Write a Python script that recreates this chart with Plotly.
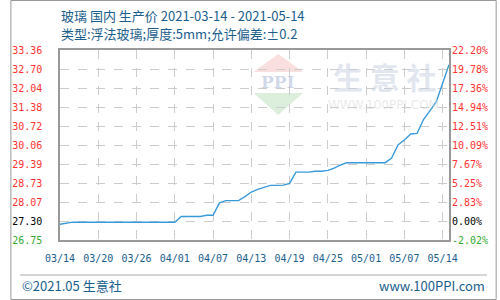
import plotly.graph_objects as go
import pandas as pd

start_date = "2021-03-14"
end_date = "2021-05-14"
prices = [27.30, 27.33,
          27.37, 27.37, 27.37, 27.37, 27.37, 27.37, 27.37, 27.37, 27.37,
          27.37, 27.37, 27.37, 27.37, 27.37, 27.37, 27.37, 27.37,
          27.57, 27.57, 27.57, 27.57,
          27.61, 27.61,
          28.04,
          28.12, 28.12, 28.12,
          28.26, 28.42, 28.51, 28.58,
          28.65, 28.65, 28.66, 28.72,
          29.11, 29.11, 29.11,
          29.14, 29.14, 29.17, 29.25, 29.36,
          29.44, 29.44, 29.44, 29.44, 29.44, 29.44, 29.44,
          29.60, 30.06, 30.23, 30.44, 30.46, 30.94, 31.24, 31.55, 32.20, 32.85]
dates = pd.date_range(start_date, periods=len(prices), freq="D")
base_price = 27.30

left_labels = ["26.75", "27.30", "28.07", "28.73", "29.39", "30.06",
               "30.72", "31.38", "32.04", "32.70", "33.36"]
right_labels = ["-2.02%", "0.00%", "2.83%", "5.25%", "7.67%", "10.09%",
                "12.51%", "14.94%", "17.36%", "19.78%", "22.20%"]
x_tick_dates = ["2021-03-14", "2021-03-20", "2021-03-26", "2021-04-01", "2021-04-07",
                "2021-04-13", "2021-04-19", "2021-04-25", "2021-05-01", "2021-05-07",
                "2021-05-13"]
x_tick_labels = ["03/14", "03/20", "03/26", "04/01", "04/07", "04/13", "04/19",
                 "04/25", "05/01", "05/07", "05/14"]

y_min, y_max = 26.75, 33.36
p_min, p_max = -2.02, 22.20
n = len(left_labels) - 1
left_vals = [y_min + i * (y_max - y_min) / n for i in range(n + 1)]
right_vals = [p_min + i * (p_max - p_min) / n for i in range(n + 1)]

RED = "#ff3333"
GREEN = "#33aa33"
BLACK = "#000000"
BLUE_TXT = "#1b5e8c"

def color_for(i):
    if i == 0:
        return GREEN
    if i == 1:
        return BLACK
    return RED

left_text = [f'<span style="color:{color_for(i)}">{t}</span>' for i, t in enumerate(left_labels)]
right_text = [f'<span style="color:{color_for(i)}">{t}</span>' for i, t in enumerate(right_labels)]

pct = [(p / base_price - 1) * 100 for p in prices]

fig = go.Figure()
fig.add_trace(go.Scatter(x=dates, y=prices, mode="lines",
                         line=dict(color="#3a9ad9", width=1.4), hoverinfo="skip",
                         showlegend=False))
fig.add_trace(go.Scatter(x=dates, y=pct, mode="lines", yaxis="y2",
                         line=dict(color="rgba(0,0,0,0)", width=0), hoverinfo="skip",
                         showlegend=False))

mono = "DejaVu Sans Mono"
fig.update_layout(
    width=500, height=300,
    margin=dict(l=51, r=49, t=50, b=60),
    paper_bgcolor="white", plot_bgcolor="white",
    xaxis=dict(range=[start_date, end_date], tickvals=x_tick_dates, ticktext=x_tick_labels,
               showgrid=True, gridcolor="#cccccc", griddash="dash", gridwidth=1,
               showline=True, linecolor="#999999", linewidth=1.5, mirror=True,
               ticks="", tickfont=dict(family=mono, size=10, color=BLUE_TXT),
               ticklabelstandoff=8, zeroline=False),
    yaxis=dict(range=[y_min, y_max], tickvals=left_vals, ticktext=left_text,
               showgrid=True, gridcolor="#cccccc", griddash="dash", gridwidth=1,
               showline=True, linecolor="#999999", linewidth=1.5, mirror=True,
               ticks="", tickfont=dict(family=mono, size=10, color=RED),
               ticklabelstandoff=14, zeroline=False),
    yaxis2=dict(range=[p_min, p_max], tickvals=right_vals, ticktext=right_text,
                overlaying="y", side="right", showgrid=False, zeroline=False,
                ticks="", tickfont=dict(family=mono, size=10, color=RED),
                ticklabelstandoff=2, showline=False),
)

title_font = dict(family="Noto Sans CJK SC", size=13, color=BLUE_TXT)
fig.add_annotation(text="玻璃 国内 生产价 2021-03-14 - 2021-05-14", xref="paper", yref="paper",
                   x=-0.002, y=1 + 35 / 190, xanchor="left", yanchor="middle",
                   showarrow=False, font=title_font)
fig.add_annotation(text="类型:浮法玻璃;厚度:5mm;允许偏差:±0.2", xref="paper", yref="paper",
                   x=-0.002, y=1 + 16 / 190, xanchor="left", yanchor="middle",
                   showarrow=False, font=title_font)

# footer
fig.add_shape(type="line", xref="paper", yref="paper", x0=-41 / 400, x1=439 / 400,
              y0=-35 / 190, y1=-35 / 190, line=dict(color="#aaaaaa", width=1))
fig.add_annotation(text="©2021.05 生意社", xref="paper", yref="paper", x=-41 / 400, y=-45 / 190,
                   xanchor="left", yanchor="middle", showarrow=False, font=title_font)
fig.add_annotation(text="www.100PPI.com", xref="paper", yref="paper", x=439 / 400, y=-45 / 190,
                   xanchor="right", yanchor="middle", showarrow=False, font=title_font)

# watermark
fig.add_shape(type="path", xref="paper", yref="paper",
              path=f"M {199/400} {1-22/190} L {250/400} {1-22/190} L {224.5/400} {1-4/190} Z",
              fillcolor="rgba(240,150,150,0.3)", line=dict(width=0), layer="below")
fig.add_shape(type="path", xref="paper", yref="paper",
              path=f"M {199/400} {1-43/190} L {250/400} {1-43/190} L {224.5/400} {1-65/190} Z",
              fillcolor="rgba(140,200,140,0.3)", line=dict(width=0), layer="below")
fig.add_annotation(text="<b>PPI</b>", xref="paper", yref="paper", x=224.5 / 400, y=1 - 32 / 190,
                   xanchor="center", yanchor="middle", showarrow=False,
                   font=dict(family="DejaVu Serif", size=17, color="rgba(170,185,215,0.55)"))
fig.add_annotation(text="<b>生 意 社</b>", xref="paper", yref="paper", x=334 / 400, y=1 - 26 / 190,
                   xanchor="center", yanchor="middle", showarrow=False,
                   font=dict(family="Noto Sans CJK SC", size=30, color="rgba(200,208,225,0.55)"))
fig.add_annotation(text="WWW.100PPI.COM", xref="paper", yref="paper", x=333 / 400, y=1 - 55 / 190,
                   xanchor="center", yanchor="middle", showarrow=False,
                   font=dict(family="DejaVu Sans", size=12, color="rgba(215,215,215,0.55)"))

# outer border
fig.add_shape(type="rect", xref="paper", yref="paper", x0=-50.5 / 400, x1=448.5 / 400,
              y0=-59.5 / 190, y1=1 + 49.5 / 190, line=dict(color="#999999", width=1))

fig.write_html("out.html")
